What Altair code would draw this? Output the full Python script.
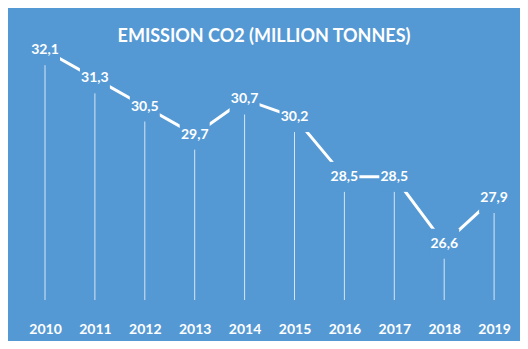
import altair as alt
import pandas as pd

years = [2010, 2011, 2012, 2013, 2014, 2015, 2016, 2017, 2018, 2019]
values = [32.1, 31.3, 30.5, 29.7, 30.7, 30.2, 28.5, 28.5, 26.6, 27.9]
labels = [f"{v:.1f}".replace(".", ",") for v in values]
title_text = "EMISSION CO2 (MILLION TONNES)"

BG = "#5599D4"
FONT = "Lato, sans-serif"

df = pd.DataFrame({"year": years, "value": values, "label": labels, "base": [25] * len(years)})

x = alt.X(
    "year:Q",
    scale=alt.Scale(domain=[2009.2585, 2019.519], nice=False, zero=False),
    axis=alt.Axis(
        values=years, format="d", title=None, domain=False, ticks=False, tickSize=0,
        grid=False, labelColor="white", labelFontWeight="bold", labelFontSize=14,
        labelFont=FONT, labelPadding=29, labelBaseline="middle", labelFlush=False,
    ),
)
y = alt.Y("value:Q", scale=alt.Scale(domain=[25, 33.3], nice=False, zero=False), axis=None)

base = alt.Chart(df)

drops = base.mark_rule(color="white", strokeWidth=1, opacity=0.75).encode(x=x, y=y, y2="base:Q")
line = base.mark_line(color="white", strokeWidth=3).encode(x=x, y=y)
mask = base.mark_square(size=900, color=BG, opacity=1, filled=True).encode(x=x, y=y)
text = base.mark_text(
    color="white", fontWeight="bold", fontSize=14, font=FONT, baseline="middle", align="center"
).encode(x=x, y=y, text="label:N")

chart = (
    alt.layer(drops, line, mask, text)
    .properties(
        width=512,
        height=292,
        background=BG,
        padding={"left": 0, "right": 0, "top": 0, "bottom": 5},
        title=alt.TitleParams(
            text=title_text, color="white", fontSize=18, font=FONT, fontWeight="bold",
            anchor="middle", offset=-47, baseline="middle",
        ),
    )
    .configure_view(stroke=None)
)

chart.save("out.html", embed_options={"renderer": "svg", "actions": False})
